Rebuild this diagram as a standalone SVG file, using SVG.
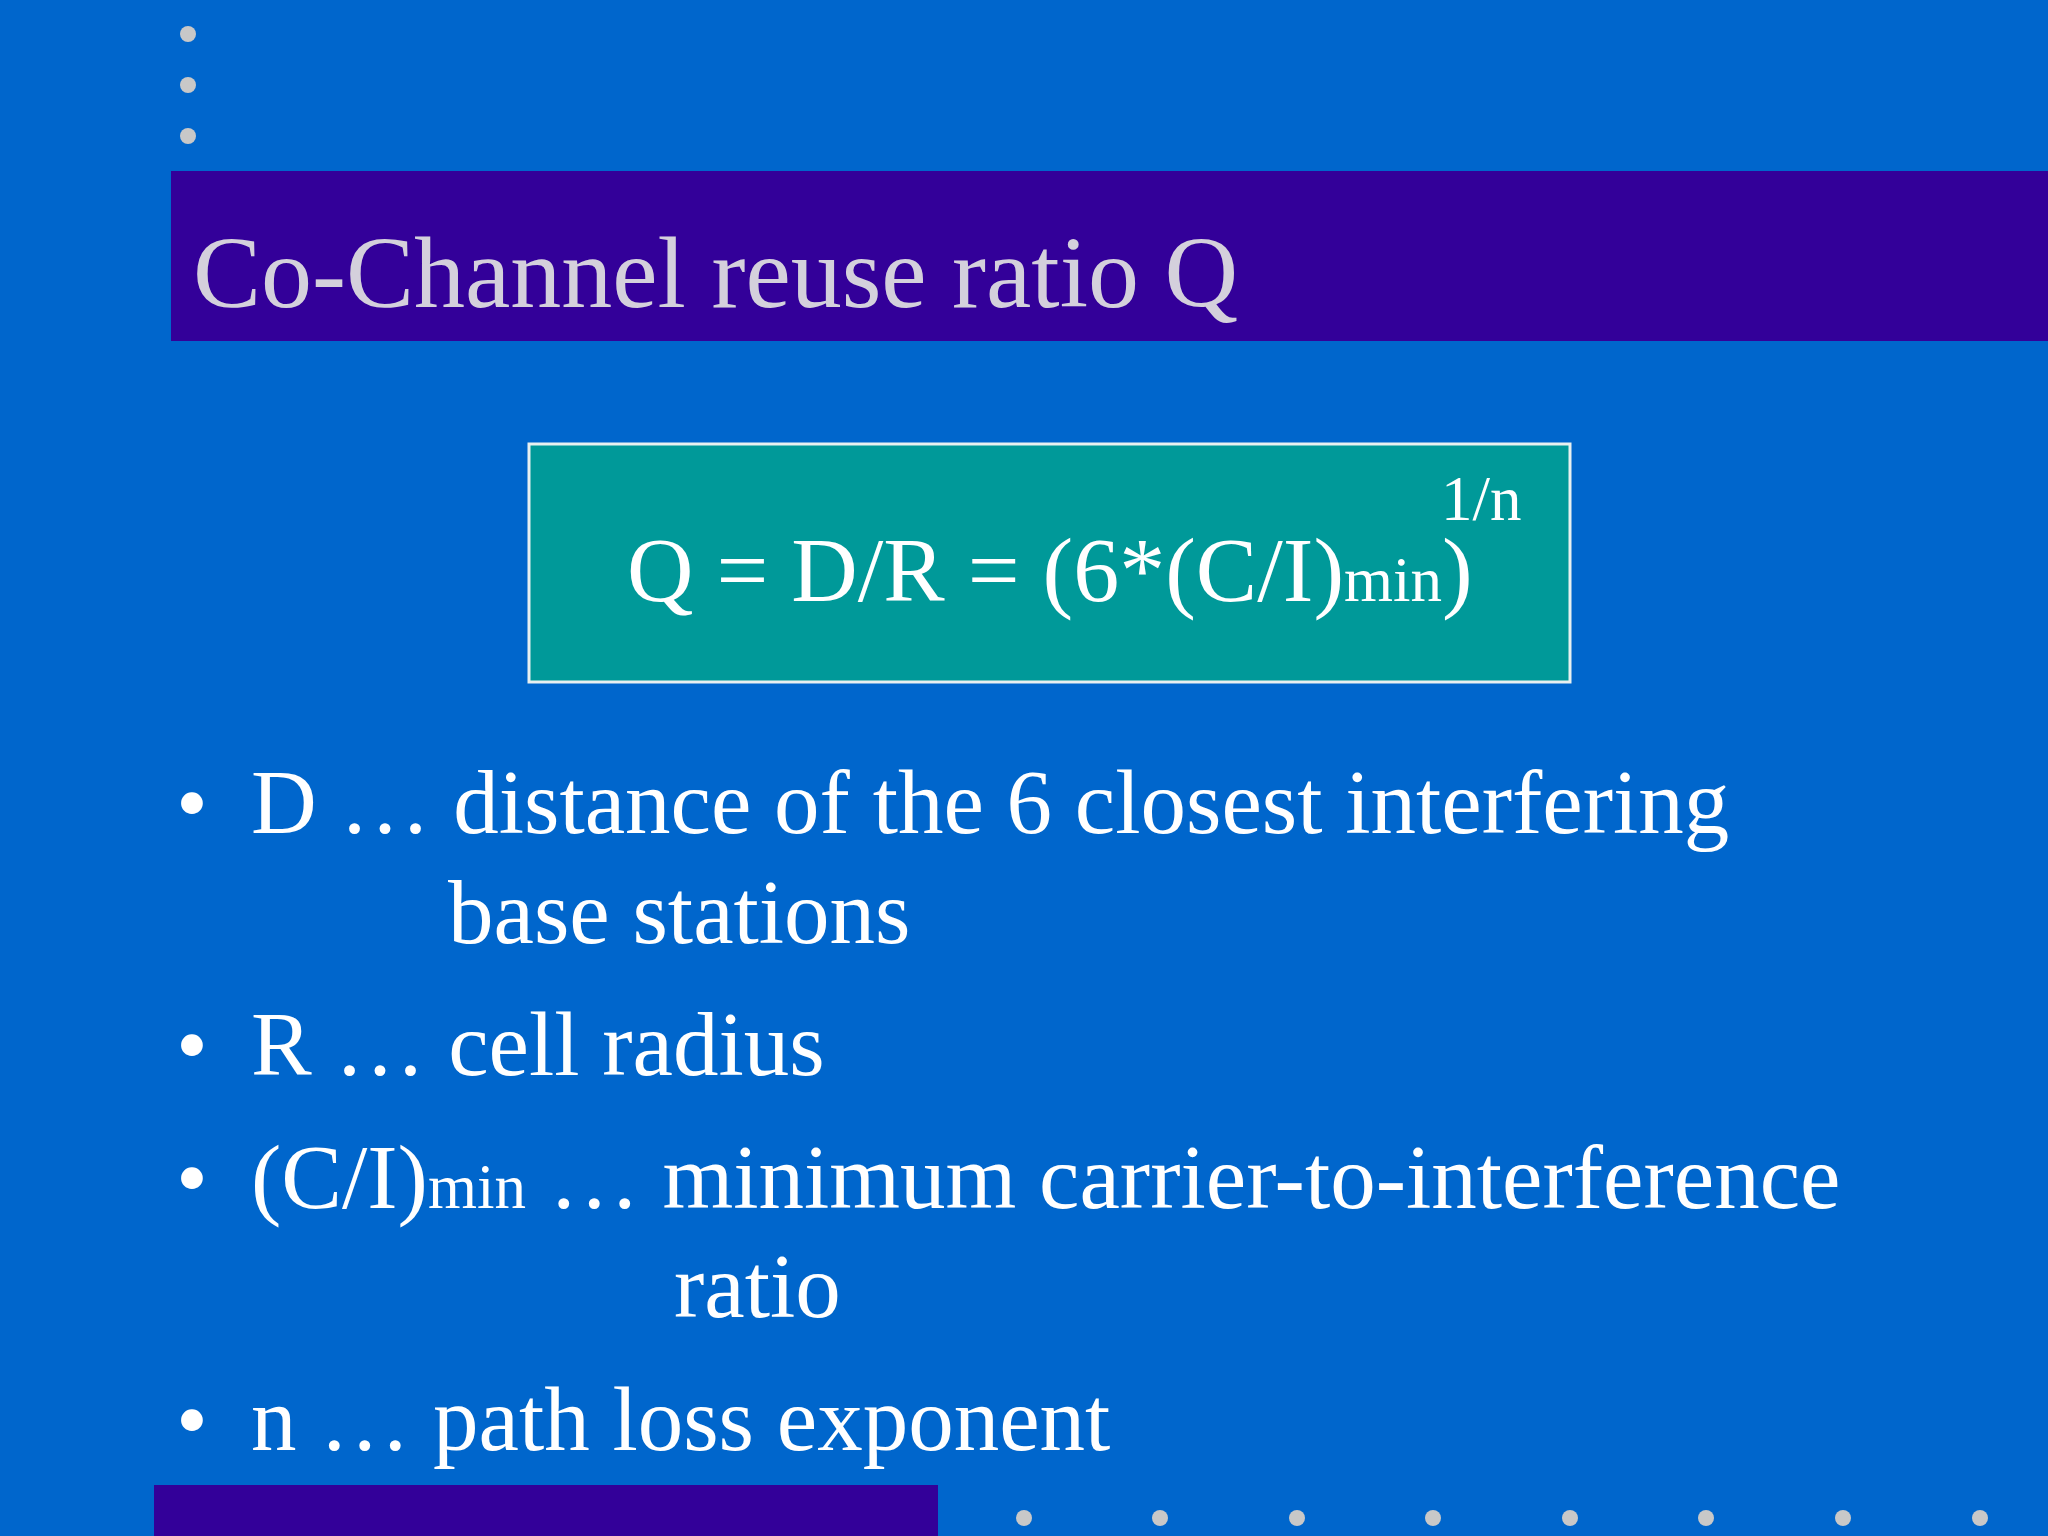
<svg xmlns="http://www.w3.org/2000/svg" width="2048" height="1536" viewBox="0 0 2048 1536">
<style>
.dot{fill:#C8C8C8}
.t{font-family:"Liberation Serif","Times New Roman",serif;fill:#FFFFFF;font-size:91px}
.f{font-size:92px}
.s{font-size:63px}
</style>
<rect width="2048" height="1536" fill="#0066CC"/>
<g id="dots-top">
<circle class="dot" cx="188" cy="34" r="8"/><circle class="dot" cx="188" cy="85" r="8"/><circle class="dot" cx="188" cy="136" r="8"/>
</g>
<g id="title">
<rect x="171" y="171" width="1877" height="170" fill="#330099"/>
<text x="193" y="307" font-family="Liberation Serif,serif" font-size="102" fill="#D4D0DC">Co-Channel reuse ratio Q</text>
</g>
<g id="formula">
<rect x="529" y="444" width="1041" height="238" fill="#009999" stroke="#E8F0F0" stroke-width="3"/>
<text class="t f" x="627" y="601">Q = D/R = (6*(C/I)<tspan class="s">min</tspan>)</text>
<text class="t s" x="1441" y="520">1/n</text>
</g>
<g id="bullets">
<text class="t" x="176" y="833">•</text><text class="t" x="251" y="833">D … distance of the 6 closest interfering</text>
<text class="t" x="448" y="943">base stations</text>
<text class="t" x="176" y="1075">•</text><text class="t" x="251" y="1075">R … cell radius</text>
<text class="t" x="176" y="1208">•</text><text class="t" x="251" y="1208">(C/I)<tspan class="s">min</tspan> … minimum carrier-to-interference</text>
<text class="t" x="674" y="1317">ratio</text>
<text class="t" x="176" y="1450">•</text><text class="t" x="251" y="1450">n … path loss exponent</text>
</g>
<g id="bottom">
<rect x="154" y="1485" width="784" height="51" fill="#330099"/>
<circle class="dot" cx="1024" cy="1518" r="8"/><circle class="dot" cx="1160" cy="1518" r="8"/><circle class="dot" cx="1297" cy="1518" r="8"/><circle class="dot" cx="1433" cy="1518" r="8"/><circle class="dot" cx="1570" cy="1518" r="8"/><circle class="dot" cx="1706" cy="1518" r="8"/><circle class="dot" cx="1843" cy="1518" r="8"/><circle class="dot" cx="1980" cy="1518" r="8"/>
</g>
</svg>
